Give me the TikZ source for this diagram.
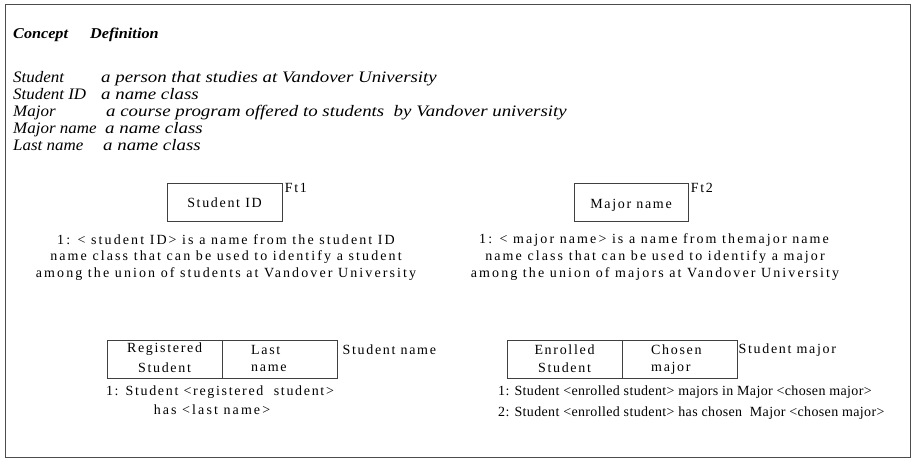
\documentclass[tikz,border=0pt]{standalone}
\usepackage{fontspec}
\setmainfont{Liberation Serif}
\newfontfamily\spaced[LetterSpace=12]{Liberation Serif}
\newfontfamily\wider[LetterSpace=15]{Liberation Serif}
\newfontfamily\tighter[LetterSpace=2.5]{Liberation Serif}
\newfontfamily\defit[FakeStretch=1.18]{Liberation Serif Italic}
\newfontfamily\conit[FakeStretch=1.06]{Liberation Serif Italic}
\newfontfamily\headit[FakeStretch=1.08]{Liberation Serif Bold Italic}
\begin{document}
\begin{tikzpicture}[x=1pt,y=-1pt,
  deftxt/.style={anchor=base west,inner sep=0pt,font=\fontsize{16}{17}\defit},
  contxt/.style={anchor=base west,inner sep=0pt,font=\fontsize{16}{17}\conit},
  headtxt/.style={anchor=base west,inner sep=0pt,font=\fontsize{15}{17}\headit},
  sp/.style={inner sep=0pt,font=\fontsize{14}{17}\spaced},
  wsp/.style={inner sep=0pt,font=\fontsize{14}{17}\wider},
  tsp/.style={inner sep=0pt,font=\fontsize{14}{17}\tighter},
  boxn/.style={draw=black!75,line width=0.8pt,inner sep=0pt},
  frame/.style={draw=black!70,line width=1pt}]
\useasboundingbox (0,0) rectangle (912,458);
\draw[frame] (5,4) rectangle (910.5,457);
% definitions
\node[headtxt] (hc) at (13,38) {Concept};
\node[headtxt] (hd) at (90,38) {Definition};
\node[contxt] (c1) at (13,82) {Student};
\node[deftxt] (d1) at (101,82) {a person that studies at Vandover University};
\node[contxt] (c2) at (13,99) {Student ID};
\node[deftxt] (d2) at (101,99) {a name class};
\node[contxt] (c3) at (13,116) {Major};
\node[deftxt] (d3) at (106,116) {a course program offered to students\ \ by Vandover university};
\node[contxt] (c4) at (13,133) {Major name};
\node[deftxt] (d4) at (105,133) {a name class};
\node[contxt] (c5) at (13,150) {Last name};
\node[deftxt] (d5) at (103,150) {a name class};
% Ft1
\node[boxn,minimum width=115pt,minimum height=38pt] (sid) at (224.5,202) {};
\node[sp] (sidt) at (224.5,203) {Student ID};
\node[sp,anchor=north west] (ft1) at (sid.north east) {\,Ft1};
\node[wsp] (f1a) at (226,240) {1: < student ID> is a name from the student ID};
\node[wsp] (f1b) at (226,257) {name class that can be used to identify a student};
\node[wsp] (f1c) at (226,274) {among the union of students at Vandover University};
% Ft2
\node[boxn,minimum width=114pt,minimum height=38pt] (mn) at (631,202) {};
\node[sp] (mnt) at (631,205) {Major name};
\node[sp,anchor=north west] (ft2) at (mn.north east) {\,Ft2};
\node[wsp] (f2a) at (654,240) {1: < major name> is a name from themajor name};
\node[wsp] (f2b) at (655,257) {name class that can be used to identify a major};
\node[wsp] (f2c) at (655,274) {among the union of majors at Vandover University};
% Student name
\node[boxn,minimum width=115pt,minimum height=38pt] (rs) at (164.5,359) {};
\node[boxn,minimum width=115pt,minimum height=38pt] (ln) at (279.5,359) {};
\node[sp] (rs1) at ([yshift=9.5pt]rs.center) {Registered};
\node[sp] (rs2) at ([yshift=-9pt]rs.center) {Student};
\node[sp,anchor=west] (ln1) at (251,349.5) {Last};
\node[sp,anchor=west] (ln2) at (251,368) {name};
\node[sp,anchor=west] (snm) at ([xshift=5pt,yshift=9pt]ln.east) {Student name};
\node[sp] (sn1) at (220,392) {1: Student <registered\ \ student>};
\node[wsp] (sn2) at (212,410) {has <last name>};
% Student major
\node[boxn,minimum width=115pt,minimum height=38pt] (es) at (564.5,359) {};
\node[boxn,minimum width=115pt,minimum height=38pt] (cm) at (679.5,359) {};
\node[sp] (es1) at ([yshift=9.5pt]es.center) {Enrolled};
\node[sp] (es2) at ([yshift=-9pt]es.center) {Student};
\node[sp,anchor=west] (cm1) at (651,349.5) {Chosen};
\node[sp,anchor=west] (cm2) at (651,368) {major};
\node[sp,anchor=west] (smj) at ([xshift=1pt,yshift=9pt]cm.east) {Student major};
\node[tsp,anchor=west] (sm1) at (498,392) {1: Student <enrolled student> majors in Major <chosen major>};
\node[tsp,anchor=west] (sm2) at (498,413) {2: Student <enrolled student> has chosen\ \ Major <chosen major>};
\end{tikzpicture}
\end{document}
